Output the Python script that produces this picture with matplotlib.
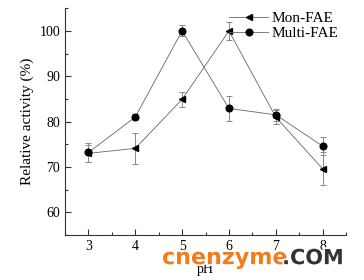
import numpy as np
import matplotlib
matplotlib.use("Agg")
import matplotlib.pyplot as plt
import matplotlib.patheffects as pe
from matplotlib.ticker import MultipleLocator

plt.rcParams['font.family'] = ['Liberation Serif', 'DejaVu Serif']

# data
ph = [3, 4, 5, 6, 7, 8]
mon_fae = [73.0, 74.1, 84.9, 100.0, 81.0, 69.6]
mon_err = [1.8, 3.4, 1.6, 2.0, 1.6, 3.6]
multi_fae = [73.2, 81.0, 100.0, 82.9, 81.5, 74.6]
multi_err = [2.0, 0.7, 1.2, 2.8, 1.3, 1.9]

fig = plt.figure(figsize=(3.64, 2.8), dpi=100)
ax = fig.add_axes([0.1786, 0.1607, 0.772, 0.81])

ax.errorbar(ph, mon_fae, yerr=mon_err, color='#666666', lw=0.6, marker='<',
            ms=5, mfc='black', mec='black', ecolor='#888888', elinewidth=0.7,
            capsize=2.5, capthick=0.7, label='Mon-FAE')
ax.errorbar(ph, multi_fae, yerr=multi_err, color='#666666', lw=0.6, marker='o',
            ms=4.8, mfc='black', mec='black', ecolor='#888888', elinewidth=0.7,
            capsize=2.5, capthick=0.7, label='Multi-FAE')

ax.set_xlim(2.5, 8.5)
ax.set_ylim(55, 105)
ax.xaxis.set_major_locator(MultipleLocator(1))
ax.xaxis.set_minor_locator(MultipleLocator(0.5))
ax.yaxis.set_major_locator(MultipleLocator(10))
ax.yaxis.set_minor_locator(MultipleLocator(5))
ax.set_yticks([60, 70, 80, 90, 100])
ax.tick_params(which='both', direction='in', labelsize=10, color='#333333')
ax.tick_params(which='major', length=4, width=0.8)
ax.tick_params(which='minor', length=2.5, width=0.8)
ax.spines['top'].set_visible(False)
ax.spines['right'].set_visible(False)
for s in ['left', 'bottom']:
    ax.spines[s].set_color('#333333')
    ax.spines[s].set_linewidth(0.8)

ax.set_xlabel('pH', fontsize=10, labelpad=7)
ax.set_ylabel('Relative activity (%)', fontsize=11, labelpad=4)

handles, labels = ax.get_legend_handles_labels()
handles = [h[0] for h in handles]
ax.legend(handles, labels, loc='upper right', frameon=False, fontsize=11,
          handlelength=2.6, handletextpad=0.2, labelspacing=0.1,
          borderaxespad=0.1, bbox_to_anchor=(1.0, 1.02))

# site watermark
shadow = [pe.withStroke(linewidth=2.5, foreground='white')]
fig.text(0.445, 0.078, 'cnenzyme', color='#f07c1e', fontsize=16,
         fontweight='bold', family='DejaVu Sans', va='center',
         path_effects=shadow)
fig.text(0.775, 0.078, '.COM', color='#333333', fontsize=15,
         fontweight='bold', family='DejaVu Sans', va='center',
         path_effects=shadow)

fig.savefig('out.png', dpi=100)
